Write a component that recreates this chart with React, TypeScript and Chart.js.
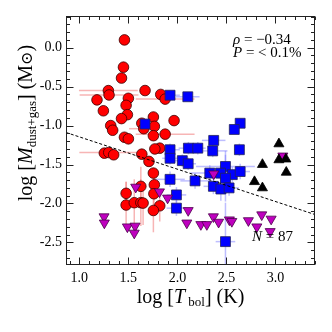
import React, { useEffect, useRef } from 'react';
import { Chart, registerables } from 'chart.js';
Chart.register(...registerables);

const X_MIN = 0.864;
const X_MAX = 3.403;
const Y_MIN = -2.79;
const Y_MAX = 0.407;
const X_TICKS = [1.0, 1.5, 2.0, 2.5, 3.0];
const Y_TICKS = [0.0, -0.5, -1.0, -1.5, -2.0, -2.5];

// Red circles
const RED_X = [1.46, 1.45, 1.43, 1.296, 1.303, 1.67, 1.83, 1.875, 1.18, 1.50, 1.477, 1.245, 1.49, 1.43, 1.755, 1.966, 1.637, 1.657, 1.765, 1.32, 1.34, 1.46, 1.50, 1.755, 1.875, 1.82, 1.77, 1.255, 1.30, 1.35, 1.637, 1.71, 1.755, 1.765, 1.627, 1.477, 1.76, 1.477, 1.56, 1.627, 1.65, 1.82, 1.755];
const RED_Y = [0.10, -0.25, -0.39, -0.551, -0.607, -0.55, -0.60, -0.66, -0.67, -0.65, -0.74, -0.81, -0.86, -0.91, -0.89, -0.936, -0.97, -1.04, -1.01, -1.00, -1.06, -1.15, -1.17, -1.13, -1.11, -1.29, -1.30, -1.354, -1.346, -1.375, -1.367, -1.46, -1.61, -1.76, -1.78, -1.87, -1.875, -2.02, -1.99, -1.99, -1.995, -2.03, -2.09];
const RED_XERR = [0, 0, 0, 0.30, 0.30, 0, 0, 0.30, 0, 0, 0, 0, 0, 0, 0, 0, 0, 0.15, 0, 0, 0, 0, 0, 0, 0.30, 0, 0, 0, 0.30, 0, 0, 0, 0, 0, 0, 0, 0, 0, 0, 0, 0, 0, 0];
const RED_YERR = [0, 0, 0, 0, 0, 0, 0, 0, 0, 0, 0, 0, 0, 0, 0, 0, 0, 0, 0, 0, 0, 0, 0, 0, 0, 0, 0, 0, 0, 0, 0, 0, 0, 0.2, 0.25, 0.15, 0.25, 0.3, 0.3, 0.3, 0.28, 0.2, 0.28];

// Blue squares
const BLUE_X = [1.925, 2.106, 1.67, 2.64, 2.58, 2.37, 1.925, 2.112, 2.208, 2.36, 2.632, 1.925, 2.05, 2.11, 1.925, 2.18, 1.99, 1.99, 2.33, 2.49, 2.44, 2.56, 2.64, 2.49, 2.367, 2.443, 2.527, 2.49];
const BLUE_Y = [-0.61, -0.63, -0.98, -0.97, -1.05, -1.19, -1.31, -1.29, -1.29, -1.325, -1.31, -1.42, -1.45, -1.49, -1.69, -1.71, -1.89, -2.06, -1.61, -1.525, -1.61, -1.63, -1.59, -1.675, -1.78, -1.815, -1.80, -2.49];
const BLUE_XERR = [0.1, 0.12, 0.08, 0.05, 0.05, 0.12, 0.1, 0.1, 0.08, 0.15, 0.05, 0.08, 0.1, 0.08, 0.15, 0.15, 0.1, 0.1, 0.2, 0.3, 0.1, 0.1, 0.1, 0.1, 0.1, 0.1, 0.1, 0.1];
const BLUE_YERR = [0.05, 0.05, 0.05, 0.05, 0.05, 0.05, 0.08, 0.08, 0.08, 0.08, 0.08, 0.08, 0.08, 0.08, 0.1, 0.1, 0.1, 0.1, 0.1, 0.2, 0.1, 0.1, 0.1, 0.3, 0.1, 0.15, 0.1, 0.5];

// Magenta down-triangles
const MAG_X = [1.575, 1.817, 1.90, 2.11, 2.096, 1.252, 1.255, 1.49, 1.568, 1.56, 2.239, 2.30, 2.367, 2.42, 2.53, 2.555, 2.724, 2.81, 2.86, 2.956, 2.946, 2.37, 3.075];
const MAG_Y = [-1.79, -1.85, -1.93, -2.09, -2.25, -2.17, -2.25, -2.30, -2.29, -2.38, -2.27, -2.27, -2.17, -2.24, -2.21, -2.23, -2.22, -2.30, -2.145, -2.20, -2.36, -1.62, -1.39];

// Black up-triangles
const BLK_X = [3.035, 2.867, 3.035, 3.106, 3.11, 2.786, 2.867];
const BLK_Y = [-1.235, -1.50, -1.44, -1.43, -1.60, -1.72, -1.80];

// Fit line
const FIT_INTERCEPT = -0.73;
const FIT_SLOPE = -0.415;

const RHO_TEXT = ' = \u22120.34';
const P_TEXT = ' = < 0.1%';
const N_TEXT = ' = 87';

const SERIF = '"Liberation Serif", "DejaVu Serif", serif';

type Run = { t: string; f: string; dy?: number };

function runsWidth(ctx: CanvasRenderingContext2D, runs: Run[]) {
  let w = 0;
  for (const r of runs) { ctx.font = r.f; w += ctx.measureText(r.t).width; }
  return w;
}
function drawRuns(ctx: CanvasRenderingContext2D, runs: Run[], x: number, y: number) {
  let cx = x;
  for (const r of runs) {
    ctx.font = r.f;
    ctx.fillText(r.t, cx, y + (r.dy || 0));
    cx += ctx.measureText(r.t).width;
  }
}

const pts = (xs: number[], ys: number[]) => xs.map((v, i) => ({ x: v, y: ys[i] }));

const errPlugin = {
  id: 'errbars',
  beforeDatasetsDraw(chart: any) {
    const { ctx, chartArea: a, scales } = chart;
    const sx = scales.x, sy = scales.y;
    ctx.save();
    ctx.beginPath();
    ctx.rect(a.left, a.top, a.right - a.left, a.bottom - a.top);
    ctx.clip();
    const draw = (xs: number[], ys: number[], xe: number[], ye: number[], color: string) => {
      ctx.strokeStyle = color;
      ctx.lineWidth = 1.5;
      for (let i = 0; i < xs.length; i++) {
        const px = sx.getPixelForValue(xs[i]);
        const py = sy.getPixelForValue(ys[i]);
        if (xe[i] > 0) {
          ctx.beginPath();
          ctx.moveTo(sx.getPixelForValue(xs[i] - xe[i]), py);
          ctx.lineTo(sx.getPixelForValue(xs[i] + xe[i]), py);
          ctx.stroke();
        }
        if (ye[i] > 0) {
          ctx.beginPath();
          ctx.moveTo(px, sy.getPixelForValue(ys[i] - ye[i]));
          ctx.lineTo(px, sy.getPixelForValue(ys[i] + ye[i]));
          ctx.stroke();
        }
      }
    };
    draw(RED_X, RED_Y, RED_XERR, RED_YERR, 'rgba(240,120,120,0.55)');
    draw(BLUE_X, BLUE_Y, BLUE_XERR, BLUE_YERR, 'rgba(110,110,255,0.45)');
    ctx.restore();
  },
};

const framePlugin = {
  id: 'frame',
  afterDraw(chart: any) {
    const { ctx, chartArea: a, scales } = chart;
    const sx = scales.x, sy = scales.y;
    ctx.save();
    ctx.strokeStyle = '#222';
    ctx.lineWidth = 1;
    const L = Math.round(a.left) + 0.5, R = Math.round(a.right) - 0.5;
    const T = Math.round(a.top) + 0.5, B = Math.round(a.bottom) - 0.5;
    ctx.strokeRect(L, T, R - L, B - T);
    ctx.beginPath();
    for (let k = Math.ceil(X_MIN * 10); k <= Math.floor(X_MAX * 10); k++) {
      const len = k % 5 === 0 ? 7 : 3.5;
      const px = Math.round(sx.getPixelForValue(k / 10)) + 0.5;
      ctx.moveTo(px, B); ctx.lineTo(px, B - len);
      ctx.moveTo(px, T); ctx.lineTo(px, T + len);
    }
    for (let k = Math.ceil(Y_MIN * 10); k <= Math.floor(Y_MAX * 10); k++) {
      const len = k % 5 === 0 ? 7 : 3.5;
      const py = Math.round(sy.getPixelForValue(k / 10)) + 0.5;
      ctx.moveTo(L, py); ctx.lineTo(L + len, py);
      ctx.moveTo(R, py); ctx.lineTo(R - len, py);
    }
    ctx.stroke();

    ctx.fillStyle = '#000';
    ctx.textBaseline = 'alphabetic';
    ctx.textAlign = 'left';
    // x title
    const xr: Run[] = [
      { t: 'log [', f: `20px ${SERIF}` },
      { t: 'T', f: `italic 20px ${SERIF}` },
      { t: ' bol', f: `13px ${SERIF}`, dy: 3 },
      { t: '] (K)', f: `20px ${SERIF}` },
    ];
    const xw = runsWidth(ctx, xr);
    drawRuns(ctx, xr, 190.5 - xw / 2, 303);
    // y title
    const yr: Run[] = [
      { t: 'log [', f: `20px ${SERIF}` },
      { t: 'M', f: `italic 20px ${SERIF}` },
      { t: 'dust+gas', f: `13px ${SERIF}`, dy: 4 },
      { t: '] (M', f: `20px ${SERIF}` },
      { t: '\u2299', f: `16px "DejaVu Serif", serif`, dy: 0 },
      { t: ')', f: `20px ${SERIF}` },
    ];
    const yw = runsWidth(ctx, yr);
    ctx.save();
    ctx.translate(32, 123);
    ctx.rotate(-Math.PI / 2);
    drawRuns(ctx, yr, -yw / 2, 0);
    ctx.restore();
    // annotations
    drawRuns(ctx, [{ t: '\u03c1', f: `italic 15px ${SERIF}` }, { t: RHO_TEXT, f: `15px ${SERIF}` }], 233, 44);
    drawRuns(ctx, [{ t: 'P', f: `italic 15px ${SERIF}` }, { t: P_TEXT, f: `15px ${SERIF}` }], 233, 57);
    const nr: Run[] = [{ t: 'N', f: `italic 15px ${SERIF}` }, { t: N_TEXT, f: `15px ${SERIF}` }];
    drawRuns(ctx, nr, 293 - runsWidth(ctx, nr), 241);
    ctx.restore();
  },
};

export default function App() {
  const ref = useRef<HTMLCanvasElement | null>(null);
  useEffect(() => {
    if (!ref.current) return;
    const chart = new Chart(ref.current, {
      type: 'scatter',
      data: {
        datasets: [
          {
            type: 'line',
            data: [
              { x: X_MIN, y: FIT_INTERCEPT + FIT_SLOPE * X_MIN },
              { x: X_MAX, y: FIT_INTERCEPT + FIT_SLOPE * X_MAX },
            ],
            borderColor: '#000',
            borderWidth: 1,
            borderDash: [3, 2],
            pointRadius: 0,
            fill: false,
          } as any,
          {
            data: pts(BLK_X, BLK_Y),
            pointStyle: 'triangle',
            pointRadius: 5.8,
            backgroundColor: '#000',
            borderColor: '#000',
            borderWidth: 0.8,
          },
          {
            data: pts(MAG_X, MAG_Y),
            pointStyle: 'triangle',
            rotation: 180,
            pointRadius: 5.8,
            backgroundColor: '#bf00bf',
            borderColor: '#4a004a',
            borderWidth: 0.8,
          } as any,
          {
            data: pts(BLUE_X, BLUE_Y),
            pointStyle: 'rect',
            pointRadius: 7,
            backgroundColor: '#0000ff',
            borderColor: '#22225a',
            borderWidth: 0.8,
          },
          {
            data: pts(RED_X, RED_Y),
            pointStyle: 'circle',
            pointRadius: 5.3,
            backgroundColor: '#ff0000',
            borderColor: '#3a0000',
            borderWidth: 0.8,
          },
        ],
      },
      options: {
        responsive: false,
        animation: false,
        devicePixelRatio: 1,
        layout: { padding: { left: 0, top: 16, right: 17, bottom: 0 } },
        plugins: { legend: { display: false }, tooltip: { enabled: false } },
        scales: {
          x: {
            type: 'linear',
            min: X_MIN,
            max: X_MAX,
            grid: { display: false, drawTicks: false },
            border: { display: false },
            afterBuildTicks: (s: any) => { s.ticks = X_TICKS.map((v) => ({ value: v })); },
            afterFit: (s: any) => { s.height = 67; },
            ticks: {
              font: { family: 'Liberation Serif', size: 14 },
              color: '#000',
              padding: 5,
              maxRotation: 0,
              autoSkip: false,
              callback: (v: any) => Number(v).toFixed(1),
            },
          },
          y: {
            type: 'linear',
            min: Y_MIN,
            max: Y_MAX,
            grid: { display: false, drawTicks: false },
            border: { display: false },
            afterBuildTicks: (s: any) => { s.ticks = Y_TICKS.map((v) => ({ value: v })); },
            afterFit: (s: any) => { s.width = 66; },
            ticks: {
              font: { family: 'Liberation Serif', size: 14 },
              color: '#000',
              padding: 4,
              autoSkip: false,
              callback: (v: any) => Number(v).toFixed(1),
            },
          },
        },
      } as any,
      plugins: [errPlugin, framePlugin],
    });
    return () => chart.destroy();
  }, []);
  return (
    <div style={{ position: 'absolute', left: 0, top: 0, width: 332, height: 332, background: '#fff' }}>
      <canvas ref={ref} width={332} height={332} style={{ display: 'block' }} />
    </div>
  );
}
